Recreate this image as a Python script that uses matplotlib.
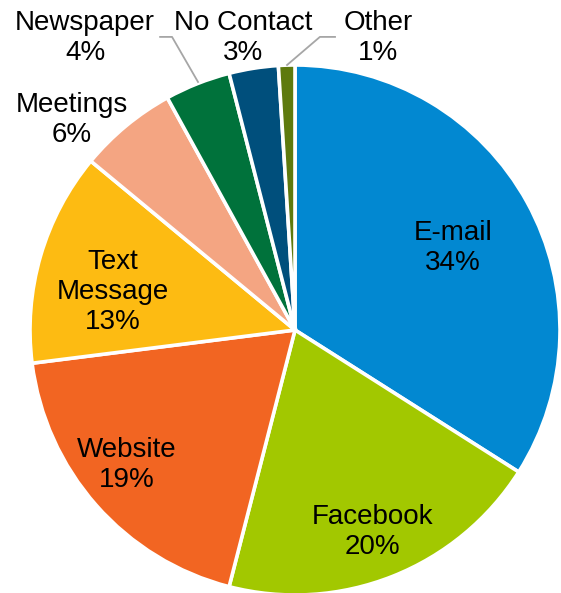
import matplotlib
matplotlib.use("Agg")
import matplotlib.pyplot as plt

# Kontaktwege (Anteile in %)
categories = ["E-mail", "Facebook", "Website", "Text\nMessage", "Meetings",
              "Newspaper", "No Contact", "Other"]
shares = [34, 20, 19, 13, 6, 4, 3, 1]
colors = ["#0288D1", "#A2C800", "#F26522", "#FDBB12", "#F4A582",
          "#00723B", "#004F7C", "#5E7A0E"]

# Label-Positionen (Datenkoordinaten, Radius = 1)
label_pos = [(0.596, 0.309), (0.294, -0.762), (-0.634, -0.509), (-0.687, 0.143),
             (-0.842, 0.792), (-0.792, 1.102), (-0.196, 1.102), (0.313, 1.102)]

plt.rcParams["font.family"] = ["Liberation Sans", "DejaVu Sans"]

fig = plt.figure(figsize=(5.61, 5.93), dpi=100)
W, H = 561, 593
cx, cy, r = 295, 330, 265
ax = fig.add_axes([(cx - r) / W, (H - cy - r) / H, 2 * r / W, 2 * r / H])

ax.pie(shares, colors=colors, startangle=90, counterclock=False, radius=1,
       wedgeprops=dict(edgecolor="white", linewidth=2.6))

for name, val, (x, y) in zip(categories, shares, label_pos):
    ax.text(x, y, f"{name}\n{val}%", ha="center", va="center",
            fontsize=20, color="black", linespacing=1.2)

# Führungslinien
ax.plot([-0.509, -0.464, -0.366], [1.106, 1.106, 0.936], color="#A6A6A6", lw=1.3,
        clip_on=False)
ax.plot([0.151, 0.094, -0.030], [1.106, 1.106, 1.0], color="#A6A6A6", lw=1.3,
        clip_on=False)

ax.set_xlim(-1, 1)
ax.set_ylim(-1, 1)
ax.set_aspect("auto")
ax.axis("off")

fig.savefig("out.png", dpi=100)
